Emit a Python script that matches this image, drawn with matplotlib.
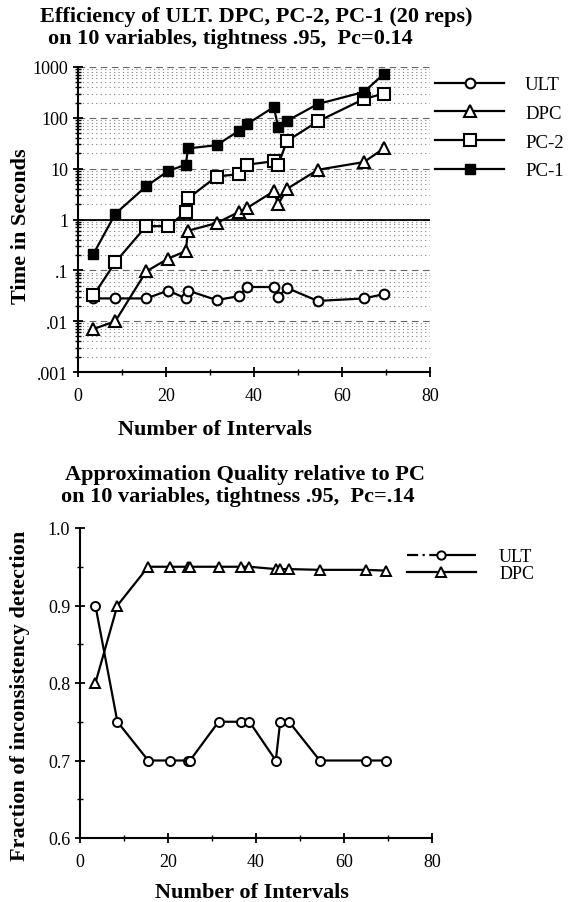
import matplotlib
matplotlib.use("Agg")
import matplotlib.pyplot as plt
from matplotlib.lines import Line2D
from matplotlib.ticker import FixedLocator, FixedFormatter, MultipleLocator, LogLocator, NullFormatter

plt.rcParams["font.family"] = ["Liberation Serif", "DejaVu Serif"]

# ── data ───────────────────────────────────────────────────────────────────
intervals = [3.5, 8.5, 15.5, 20.5, 24.5, 25, 31.5, 36.5, 38.5, 44.5, 45.5, 47.5, 54.5, 65, 69.5]

# top: run time in seconds (log scale)
ult_time = [0.028, 0.028, 0.028, 0.04, 0.028, 0.04, 0.026, 0.031, 0.047, 0.047, 0.03, 0.045, 0.025, 0.028, 0.034]
dpc_time = [0.007, 0.010, 0.095, 0.17, 0.24, 0.6, 0.85, 1.4, 1.7, 3.6, 2.0, 4.0, 9.5, 13.5, 25]
pc2_time = [0.032, 0.145, 0.74, 0.74, 1.4, 2.6, 7, 7.8, 12, 14, 12, 35, 85, 235, 300]
pc1_time = [0.21, 1.3, 4.5, 9, 12, 25, 29, 55, 76, 163, 66, 87, 187, 323, 730]

# bottom: fraction of inconsistency detection
ult_frac = [0.90, 0.75, 0.70, 0.70, 0.70, 0.70, 0.75, 0.75, 0.75, 0.70, 0.75, 0.75, 0.70, 0.70, 0.70]
dpc_frac = [0.80, 0.90, 0.95, 0.95, 0.95, 0.95, 0.95, 0.95, 0.95, 0.947, 0.947, 0.947, 0.946, 0.946, 0.945]

time_ticks = [0.001, 0.01, 0.1, 1, 10, 100, 1000]
time_labels = [".001", ".01", ".1", "1", "10", "100", "1000"]
frac_ticks = [0.6, 0.7, 0.8, 0.9, 1.0]
x_ticks = [0, 20, 40, 60, 80]

W, H = 581, 903
fig = plt.figure(figsize=(W / 100, H / 100), dpi=100)


def fx(px):
    return px / W


def fy(py):
    return 1 - py / H


BIG = 16     # bold titles / axis labels
TICK = 13

# ── top panel: efficiency ──────────────────────────────────────────────────
ax1 = fig.add_axes([fx(78), fy(373), fx(430 - 78), (373 - 68) / H])
line_kw = dict(color="black", linewidth=1.6)
ax1.plot(intervals, ult_time, marker="o", markersize=7, markerfacecolor="white",
         markeredgewidth=1.5, label="ULT", **line_kw)
ax1.plot(intervals, dpc_time, marker="^", markersize=8, markerfacecolor="white",
         markeredgewidth=1.5, label="DPC", **line_kw)
ax1.plot(intervals, pc2_time, marker="s", markersize=8, markerfacecolor="white",
         markeredgewidth=1.5, label="PC-2", **line_kw)
ax1.plot(intervals, pc1_time, marker="s", markersize=7, markerfacecolor="black",
         label="PC-1", **line_kw)

ax1.set_yscale("log")
ax1.set_ylim(0.001, 1000)
ax1.set_xlim(0, 80)
ax1.yaxis.set_major_locator(FixedLocator(time_ticks))
ax1.yaxis.set_major_formatter(FixedFormatter(time_labels))
ax1.yaxis.set_minor_locator(LogLocator(base=10, subs=range(2, 10), numticks=20))
ax1.yaxis.set_minor_formatter(NullFormatter())
ax1.xaxis.set_major_locator(FixedLocator(x_ticks))
ax1.xaxis.set_minor_locator(MultipleLocator(10))

# halftone-like gridlines of the scan
ax1.yaxis.grid(True, which="minor", linestyle=(0, (1, 3)), color="0.5", linewidth=0.8)
ax1.yaxis.grid(True, which="major", linestyle=(0, (6, 4)), color="0.4", linewidth=0.8)
ax1.axhline(1, color="black", linewidth=1.3, zorder=1)
ax1.set_axisbelow(True)

ax1.legend(loc="upper left", bbox_to_anchor=(fx(435), fy(77)),
           bbox_transform=fig.transFigure, frameon=False, fontsize=13.5,
           handlelength=3.7, handletextpad=1.1, labelspacing=0.62,
           borderpad=0, borderaxespad=0)

# ── bottom panel: approximation quality ────────────────────────────────────
ax2 = fig.add_axes([fx(80), fy(839), fx(432 - 80), (839 - 529) / H])
ax2.plot(intervals, ult_frac, marker="o", markersize=6.5, markerfacecolor="white",
         markeredgewidth=1.4, **line_kw)
ax2.plot(intervals, dpc_frac, marker="^", markersize=6.5, markerfacecolor="white",
         markeredgewidth=1.4, **line_kw)
ax2.set_ylim(0.6, 1.0)
ax2.set_xlim(0, 80)
ax2.yaxis.set_major_locator(FixedLocator(frac_ticks))
ax2.yaxis.set_major_formatter(FixedFormatter([f"{v:.1f}" for v in frac_ticks]))
ax2.yaxis.set_minor_locator(MultipleLocator(0.05))
ax2.xaxis.set_major_locator(FixedLocator(x_ticks))
ax2.xaxis.set_minor_locator(MultipleLocator(10))

handles = [
    Line2D([], [], color="black", linewidth=1.6, dashes=(5, 2, 1, 2, 60, 1), marker="o",
           markersize=6, markerfacecolor="white", markeredgewidth=1.4),
    Line2D([], [], color="black", linewidth=1.6, marker="^",
           markersize=6.5, markerfacecolor="white", markeredgewidth=1.4),
]
ax2.legend(handles, ["ULT", "DPC"], loc="upper left", bbox_to_anchor=(fx(407), fy(549)),
           bbox_transform=fig.transFigure, frameon=False, fontsize=13,
           handlelength=3.8, handletextpad=1.3, labelspacing=0.0,
           borderpad=0, borderaxespad=0)

for ax in (ax1, ax2):
    ax.spines["top"].set_visible(False)
    ax.spines["right"].set_visible(False)
    ax.spines["left"].set_linewidth(1.5)
    ax.spines["bottom"].set_linewidth(1.5)
    ax.tick_params(axis="both", which="major", direction="inout", length=7, width=1.3,
                   labelsize=TICK)
    ax.tick_params(axis="x", which="major", pad=7)
    ax.tick_params(axis="both", which="minor", direction="inout", length=4, width=1.0)

# ── titles and axis labels ─────────────────────────────────────────────────
bold = dict(ha="center", va="center", fontsize=BIG, fontweight="bold")
fig.text(fx(256), fy(17), "Efficiency of ULT. DPC, PC-2, PC-1 (20 reps)", **bold)
fig.text(fx(230), fy(39), "on 10 variables, tightness .95,  Pc=0.14", **bold)
fig.text(fx(21), fy(226), "Time in Seconds", rotation=90, **bold)
fig.text(fx(215), fy(430), "Number of Intervals", **bold)

fig.text(fx(245), fy(475), "Approximation Quality relative to PC", **bold)
fig.text(fx(238), fy(497), "on 10 variables, tightness .95,  Pc=.14", **bold)
fig.text(fx(20), fy(696), "Fraction of inconsistency detection", rotation=90, **bold)
fig.text(fx(252), fy(893), "Number of Intervals", **bold)

fig.savefig("out.png", dpi=100)
